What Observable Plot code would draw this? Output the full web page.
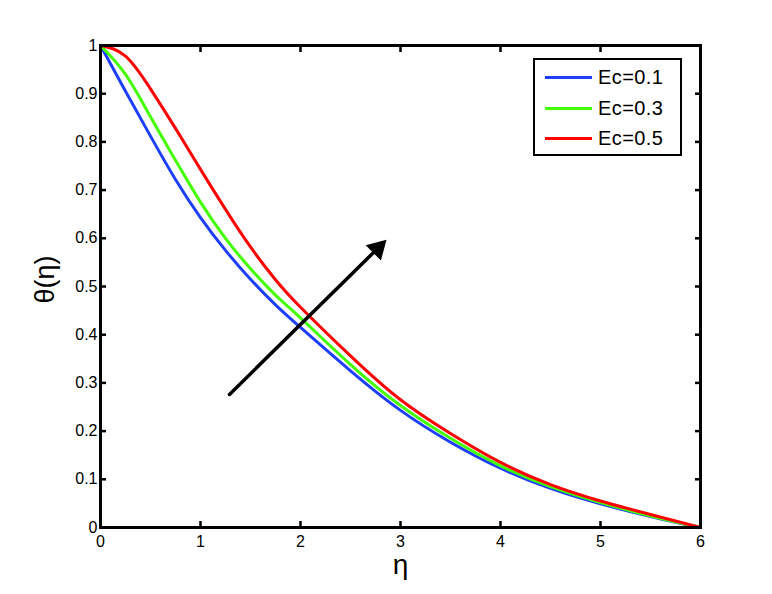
<!DOCTYPE html>
<html><head><meta charset="utf-8">
<script src="https://cdn.jsdelivr.net/npm/d3@7"></script>
<script src="https://cdn.jsdelivr.net/npm/@observablehq/plot@0.6"></script>
<style>
body{margin:0;background:#fff;}
#wrap{position:relative;width:772px;height:594px;}
#legend{position:absolute;left:533px;top:58px;width:145px;height:94px;border:2px solid #000;background:#fff;font-family:"Liberation Sans",Arial,sans-serif;font-size:20px;letter-spacing:0.4px;}
.sw{position:absolute;left:10px;width:47px;height:3px;}
.lab{position:absolute;left:63px;line-height:22px;color:#000;}
</style></head><body><div id="wrap"></div>
<script>
const eta = [0,0.25,0.5,0.75,1,1.25,1.5,1.75,2,2.5,3,3.5,4,4.5,5,5.5,6];
const seriesNames = ["Ec=0.1","Ec=0.3","Ec=0.5"];
const seriesColors = ["#1f3fff","#44ff00","#ff0000"];
const thetaEc01 = [1,0.905,0.812,0.722,0.643,0.575,0.515,0.462,0.415,0.325,0.243,0.177,0.123,0.081,0.049,0.023,0];
const thetaEc03 = [1,0.94,0.852,0.762,0.675,0.6,0.537,0.482,0.435,0.338,0.253,0.185,0.128,0.085,0.052,0.024,0];
const thetaEc05 = [1,0.978,0.91,0.828,0.743,0.66,0.582,0.514,0.457,0.356,0.265,0.195,0.135,0.089,0.055,0.027,0];
const xTicks = [0,1,2,3,4,5,6];
const yTicks = [0,0.1,0.2,0.3,0.4,0.5,0.6,0.7,0.8,0.9,1];
const arrowStart = [1.29, 0.276];
const arrowEnd = [2.86, 0.597];
const xTitle = "η";
const yTitle = "θ(η)";

const allSeries = [thetaEc01, thetaEc03, thetaEc05];
const rows = [];
allSeries.forEach((vals, s) => eta.forEach((x, i) => rows.push({eta: x, theta: vals[i], series: seriesNames[s]})));
const arrowData = [{x1: arrowStart[0], y1: arrowStart[1], x2: arrowEnd[0], y2: arrowEnd[1]}];

const chart = Plot.plot({
  width: 772, height: 594,
  marginLeft: 100, marginRight: 72, marginTop: 45, marginBottom: 67,
  x: {domain: [0, 6]},
  y: {domain: [0, 1]},
  color: {domain: seriesNames, range: seriesColors},
  style: {fontFamily: "'Liberation Sans', Arial, sans-serif", fontSize: "16px", background: "white", color: "black"},
  marks: [
    Plot.line(rows, {x: "eta", y: "theta", stroke: "series", strokeWidth: 3, curve: "natural"}),
    Plot.arrow(arrowData, {x1: "x1", y1: "y1", x2: "x2", y2: "y2", stroke: "black", strokeWidth: 3.5, headLength: 0, insetEnd: 11}),
    Plot.dot(arrowData, {x: "x2", y: "y2", symbol: "triangle", r: 8, rotate: 45, fill: "black", stroke: "none", dx: -8.8, dy: 8.8}),
    Plot.axisX({anchor: "bottom", ticks: xTicks, tickSize: -6, tickPadding: 14, strokeWidth: 2.5, tickFormat: d => String(d), label: null}),
    Plot.axisX({anchor: "top", ticks: xTicks, tickSize: -6, tickFormat: () => "", strokeWidth: 2.5, label: null}),
    Plot.axisY({anchor: "left", ticks: yTicks, tickSize: -6, tickPadding: 9, strokeWidth: 2.5, tickFormat: d => String(d), label: null}),
    Plot.axisY({anchor: "right", ticks: yTicks, tickSize: -6, tickFormat: () => "", strokeWidth: 2.5, label: null}),
    Plot.frame({strokeWidth: 3}),
    Plot.text([xTitle], {frameAnchor: "bottom", dy: 38, fontSize: 28, lineAnchor: "middle"}),
    Plot.text([yTitle], {frameAnchor: "left", rotate: -90, dx: -55, dy: 17, fontSize: 27, lineAnchor: "middle"})
  ]
});
const wrap = document.getElementById("wrap");
wrap.appendChild(chart);

const legend = document.createElement("div");
legend.id = "legend";
const rowCenters = [17, 48, 78];
seriesNames.forEach((name, i) => {
  const sw = document.createElement("div");
  sw.className = "sw";
  sw.style.top = (rowCenters[i] - 1.5) + "px";
  sw.style.background = seriesColors[i];
  legend.appendChild(sw);
  const lab = document.createElement("div");
  lab.className = "lab";
  lab.style.top = (rowCenters[i] - 11) + "px";
  lab.textContent = name;
  legend.appendChild(lab);
});
wrap.appendChild(legend);
</script></body></html>
